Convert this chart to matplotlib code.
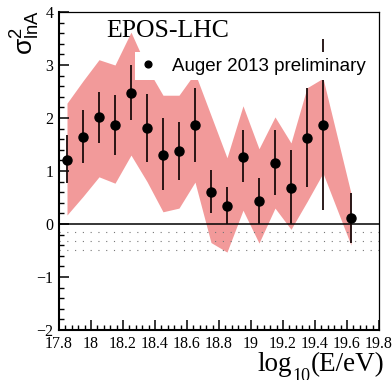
import matplotlib
matplotlib.use('Agg')
import matplotlib.pyplot as plt
import numpy as np

plt.rcParams['font.family'] = ['Liberation Serif', 'DejaVu Serif']
plt.rcParams['mathtext.fontset'] = 'custom'
plt.rcParams['mathtext.rm'] = 'Liberation Serif'
plt.rcParams['mathtext.it'] = 'Liberation Serif:italic'
plt.rcParams['mathtext.sf'] = 'Liberation Sans'

# Auger 2013 preliminary points
log_e = [17.85, 17.95, 18.05, 18.15, 18.25, 18.35, 18.45, 18.55, 18.65,
         18.75, 18.85, 18.95, 19.05, 19.15, 19.25, 19.35, 19.45, 19.625]
var_lna = [1.21, 1.64, 2.01, 1.87, 2.48, 1.81, 1.31, 1.38, 1.87,
           0.60, 0.34, 1.26, 0.43, 1.16, 0.68, 1.62, 1.87, 0.11]
bar_low = [0.77, 1.15, 1.53, 1.30, 1.96, 1.17, 0.64, 0.83, 1.17,
           0.21, 0.00, 0.79, 0.00, 0.55, 0.00, 0.70, 0.26, -0.36]
bar_high = [1.67, 2.15, 2.49, 2.43, 3.00, 2.45, 2.00, 1.92, 2.57,
            1.02, 0.70, 1.77, 0.87, 1.77, 1.40, 2.57, 3.50, 0.58]

# systematic band (EPOS-LHC)
band_low = [0.17, 0.52, 0.89, 0.77, 1.30, 0.80, 0.23, 0.30, 0.79,
            -0.35, -0.53, 0.26, -0.36, 0.30, -0.10, 0.42, 0.96, -0.40]
band_high = [2.28, 2.70, 3.10, 3.00, 3.62, 2.95, 2.43, 2.43, 2.85,
             2.05, 1.25, 2.23, 1.42, 2.02, 1.53, 2.57, 2.75, 0.58]

# physical limit region below zero
limit_lines = [-0.15, -0.32, -0.49]

x_ticks = [17.8, 18.0, 18.2, 18.4, 18.6, 18.8, 19.0, 19.2, 19.4, 19.6, 19.8]
x_labels = ['17.8', '18', '18.2', '18.4', '18.6', '18.8', '19', '19.2', '19.4', '19.6', '19.8']

fig = plt.figure(figsize=(3.92, 3.80), dpi=100)
ax = fig.add_axes([0.1505, 0.1316, 0.8163, 0.8368])

ax.fill_between(log_e, band_low, band_high, color='#f29a9a', lw=0, zorder=1)

ax.axhline(0, color='black', lw=1.1, zorder=2)
for y in limit_lines:
    ax.axhline(y, color='#777777', lw=0.8, ls=(0, (1, 6)), zorder=2)

ax.vlines(log_e, bar_low, bar_high, color='#1a0a0a', lw=1.3, zorder=3)
pts, = ax.plot(log_e, var_lna, 'o', color='black', ms=6.5, ls='none', zorder=4,
               label='Auger 2013 preliminary')

ax.set_xlim(17.8, 19.8)
ax.set_ylim(-2, 4)
ax.set_xticks(x_ticks)
ax.set_xticklabels(x_labels)
ax.set_xticks(np.arange(17.8, 19.81, 0.04), minor=True)
ax.set_yticks([-2, -1, 0, 1, 2, 3, 4])
ax.set_yticks(np.arange(-2, 4.01, 0.2), minor=True)
ax.tick_params(which='both', direction='in', top=False, right=False, labelsize=11.5)
ax.tick_params(which='major', length=7.5, width=1.1)
ax.tick_params(which='minor', length=3.8, width=1.0)
ax.tick_params(axis='x', pad=4)
ax.tick_params(axis='y', pad=4)

for side in ['left', 'bottom']:
    ax.spines[side].set_linewidth(1.5)
for side in ['top', 'right']:
    ax.spines[side].set_linewidth(0.9)

ax.text(0.147, 0.921, 'EPOS-LHC', transform=ax.transAxes, fontsize=18.5,
        va='baseline', ha='left', zorder=6)

leg = ax.legend(handles=[pts], loc='upper left', bbox_to_anchor=(0.2375, 0.874),
                borderaxespad=0, borderpad=0.3, handlelength=0.8, handletextpad=0.85,
                markerscale=0.75, frameon=True, fancybox=False,
                prop={'family': 'Liberation Sans', 'size': 13.5})
leg.get_frame().set_facecolor('white')
leg.get_frame().set_edgecolor('none')
leg.get_frame().set_alpha(1.0)
leg.set_zorder(5)

# y title, ROOT style at the top of the axis
fig.text(0.060, 0.915, r'$\mathsf{\sigma}^{\mathsf{2}}_{\mathsf{lnA}}$', rotation=90,
         fontsize=19, ha='center', va='center')

# x title with a deep subscript
fig.text(257 / 392, 1 - 371 / 380, 'log', fontsize=19.5, ha='left', va='baseline')
fig.text(292 / 392, 1 - 381 / 380, '10', fontsize=13, ha='left', va='baseline')
fig.text(311 / 392, 1 - 371 / 380, '(E/eV)', fontsize=19.5, ha='left', va='baseline')

fig.savefig('out.png', dpi=100)
